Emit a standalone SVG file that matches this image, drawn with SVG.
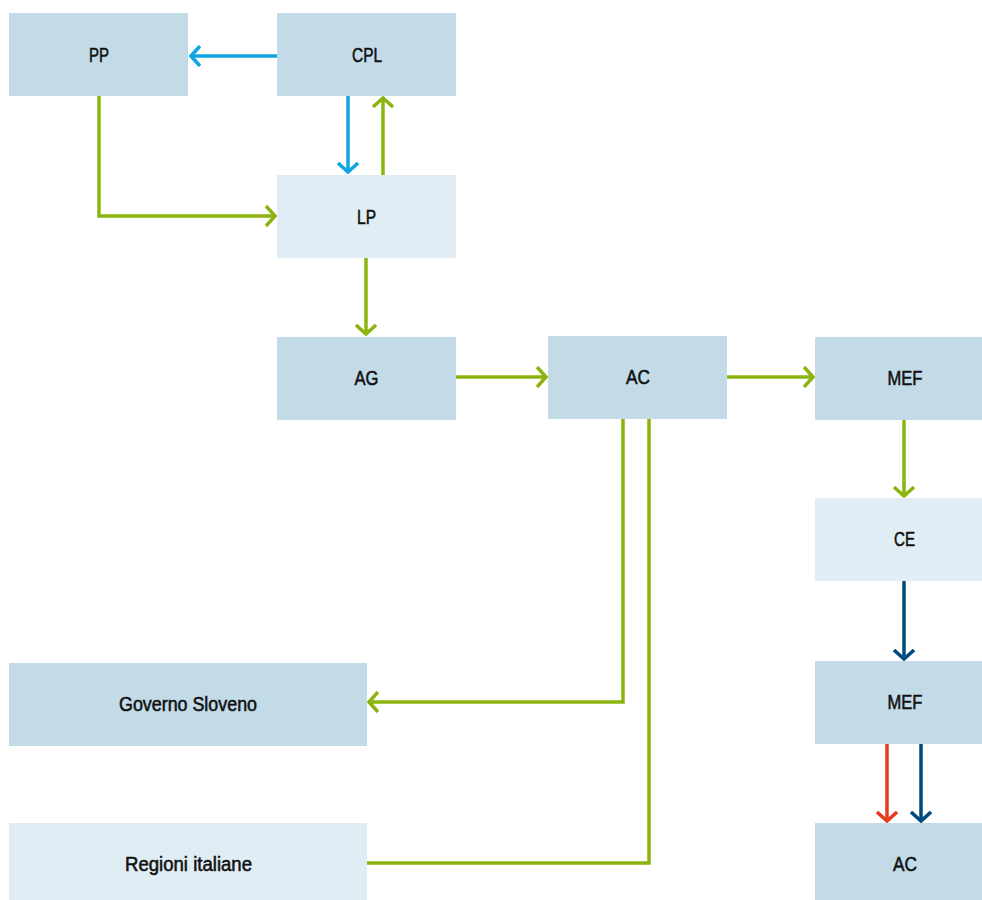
<svg xmlns="http://www.w3.org/2000/svg" width="982" height="900" viewBox="0 0 982 900">
<style>
.d{fill:#c2dbe7}
.l{fill:#e1edf4}
text{font-family:"Liberation Sans",Arial,sans-serif;font-size:19.5px;fill:#111;stroke:#111;stroke-width:0.55;text-anchor:middle}
.c{fill:none;stroke-width:3.5}
.g{stroke:#8cb40e}
.b{stroke:#0ea5e2}
.n{stroke:#004b7d}
.r{stroke:#e63c1e}
</style>
<defs>
<marker id="ag" viewBox="0 0 12 22" refX="10" refY="11" markerWidth="12" markerHeight="22" markerUnits="userSpaceOnUse" orient="auto"><path d="M1,1 L10,11 L1,21" fill="none" stroke="#8cb40e" stroke-width="3.5"/></marker>
<marker id="ab" viewBox="0 0 12 22" refX="10" refY="11" markerWidth="12" markerHeight="22" markerUnits="userSpaceOnUse" orient="auto"><path d="M1,1 L10,11 L1,21" fill="none" stroke="#0ea5e2" stroke-width="3.5"/></marker>
<marker id="an" viewBox="0 0 12 22" refX="10" refY="11" markerWidth="12" markerHeight="22" markerUnits="userSpaceOnUse" orient="auto"><path d="M1,1 L10,11 L1,21" fill="none" stroke="#004b7d" stroke-width="3.5"/></marker>
<marker id="ar" viewBox="0 0 12 22" refX="10" refY="11" markerWidth="12" markerHeight="22" markerUnits="userSpaceOnUse" orient="auto"><path d="M1,1 L10,11 L1,21" fill="none" stroke="#e63c1e" stroke-width="3.5"/></marker>
</defs>
<g id="connectors">
<path class="c b" d="M277,56 H191" marker-end="url(#ab)"/>
<path class="c b" d="M348,96 V172" marker-end="url(#ab)"/>
<path class="c g" d="M383,175 V98" marker-end="url(#ag)"/>
<path class="c g" d="M99,96 V216 H275" marker-end="url(#ag)"/>
<path class="c g" d="M366,258 V334" marker-end="url(#ag)"/>
<path class="c g" d="M456,377 H546" marker-end="url(#ag)"/>
<path class="c g" d="M727,377 H813" marker-end="url(#ag)"/>
<path class="c g" d="M904,420 V496" marker-end="url(#ag)"/>
<path class="c n" d="M904,581 V659" marker-end="url(#an)"/>
<path class="c r" d="M887,744 V821" marker-end="url(#ar)"/>
<path class="c n" d="M921,744 V821" marker-end="url(#an)"/>
<path class="c g" d="M623,419 V702 H369" marker-end="url(#ag)"/>
<path class="c g" d="M649,419 V863 H367"/>
</g>
<g id="PP"><rect class="d" x="9" y="13" width="179" height="83"/><text x="99" y="61.5" textLength="20" lengthAdjust="spacingAndGlyphs">PP</text></g>
<g id="CPL"><rect class="d" x="277" y="13" width="179" height="83"/><text x="367" y="61.5" textLength="30" lengthAdjust="spacingAndGlyphs">CPL</text></g>
<g id="LP"><rect class="l" x="277" y="175" width="179" height="83"/><text x="366.5" y="223.5" textLength="19" lengthAdjust="spacingAndGlyphs">LP</text></g>
<g id="AG"><rect class="d" x="277" y="337" width="179" height="83"/><text x="366.5" y="385" textLength="24" lengthAdjust="spacingAndGlyphs">AG</text></g>
<g id="AC"><rect class="d" x="548" y="336" width="179" height="83"/><text x="638" y="384" textLength="24" lengthAdjust="spacingAndGlyphs">AC</text></g>
<g id="MEF1"><rect class="d" x="815" y="337" width="167" height="83"/><text x="905" y="385" textLength="35" lengthAdjust="spacingAndGlyphs">MEF</text></g>
<g id="CE"><rect class="l" x="815" y="498" width="167" height="83"/><text x="904.5" y="546" textLength="21" lengthAdjust="spacingAndGlyphs">CE</text></g>
<g id="MEF2"><rect class="d" x="815" y="661" width="167" height="83"/><text x="905" y="709" textLength="35" lengthAdjust="spacingAndGlyphs">MEF</text></g>
<g id="AC2"><rect class="d" x="815" y="823" width="167" height="77"/><text x="905" y="870.5" textLength="24" lengthAdjust="spacingAndGlyphs">AC</text></g>
<g id="GovernoSloveno"><rect class="d" x="9" y="663" width="358" height="83"/><text x="188" y="710.5" textLength="138" lengthAdjust="spacingAndGlyphs">Governo Sloveno</text></g>
<g id="RegioniItaliane"><rect class="l" x="9" y="823" width="358" height="77"/><text x="188.5" y="870.5" textLength="127" lengthAdjust="spacingAndGlyphs">Regioni italiane</text></g>
</svg>
